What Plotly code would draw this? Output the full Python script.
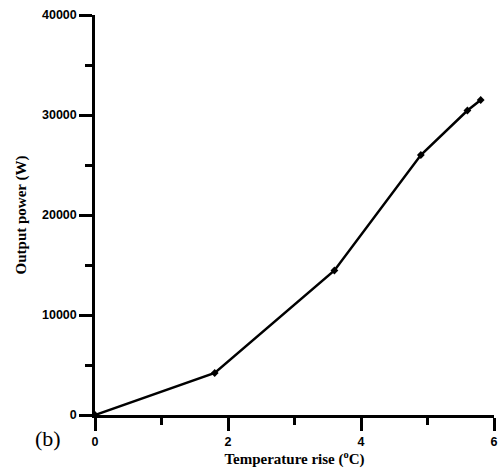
import plotly.graph_objects as go

temp_rise = [0, 1.8, 3.6, 4.9, 5.6, 5.8]
output_power = [0, 4200, 14450, 26000, 30450, 31500]
x_ticks = [0, 2, 4, 6]
y_ticks = [0, 10000, 20000, 30000, 40000]

fig = go.Figure()
fig.add_trace(go.Scatter(
    x=temp_rise, y=output_power, mode="lines+markers",
    line=dict(color="black", width=2.5),
    marker=dict(symbol="diamond", size=6, color="black"),
    showlegend=False, cliponaxis=False,
))

tickfont = dict(family="Liberation Sans", size=12.5, color="black")
titlefont = dict(family="Liberation Serif", size=15, color="black")

fig.update_layout(
    width=504, height=470,
    margin=dict(l=95, r=6, t=15, b=55),
    paper_bgcolor="white", plot_bgcolor="white",
    xaxis=dict(
        range=[0, 6], tickvals=x_ticks, ticktext=[f"<b>{v}</b>" for v in x_ticks],
        showline=True, linecolor="black", linewidth=2.5,
        ticks="outside", ticklen=13, tickwidth=2.5, tickcolor="black",
        minor=dict(dtick=1, ticks="outside", ticklen=7, tickwidth=2.5, tickcolor="black"),
        showgrid=False, zeroline=False, tickfont=tickfont,
        title=dict(text="<b>Temperature rise (<sup>o</sup>C)</b>", font=titlefont, standoff=5),
    ),
    yaxis=dict(
        range=[0, 40000], tickvals=y_ticks, ticktext=[f"<b>{v}</b>" for v in y_ticks],
        showline=True, linecolor="black", linewidth=2.5,
        ticks="outside", ticklen=13, tickwidth=2.5, tickcolor="black",
        minor=dict(dtick=5000, ticks="outside", ticklen=7, tickwidth=2.5, tickcolor="black"),
        showgrid=False, zeroline=False, tickfont=tickfont,
        title=dict(text="<b>Output power (W)</b>", font=titlefont, standoff=12),
    ),
    annotations=[dict(
        text="(b)", xref="paper", yref="paper", x=-0.119, y=-0.058,
        xanchor="center", yanchor="middle", showarrow=False,
        font=dict(family="Liberation Serif", size=22, color="black"),
    )],
)

fig.write_html("out.html")
